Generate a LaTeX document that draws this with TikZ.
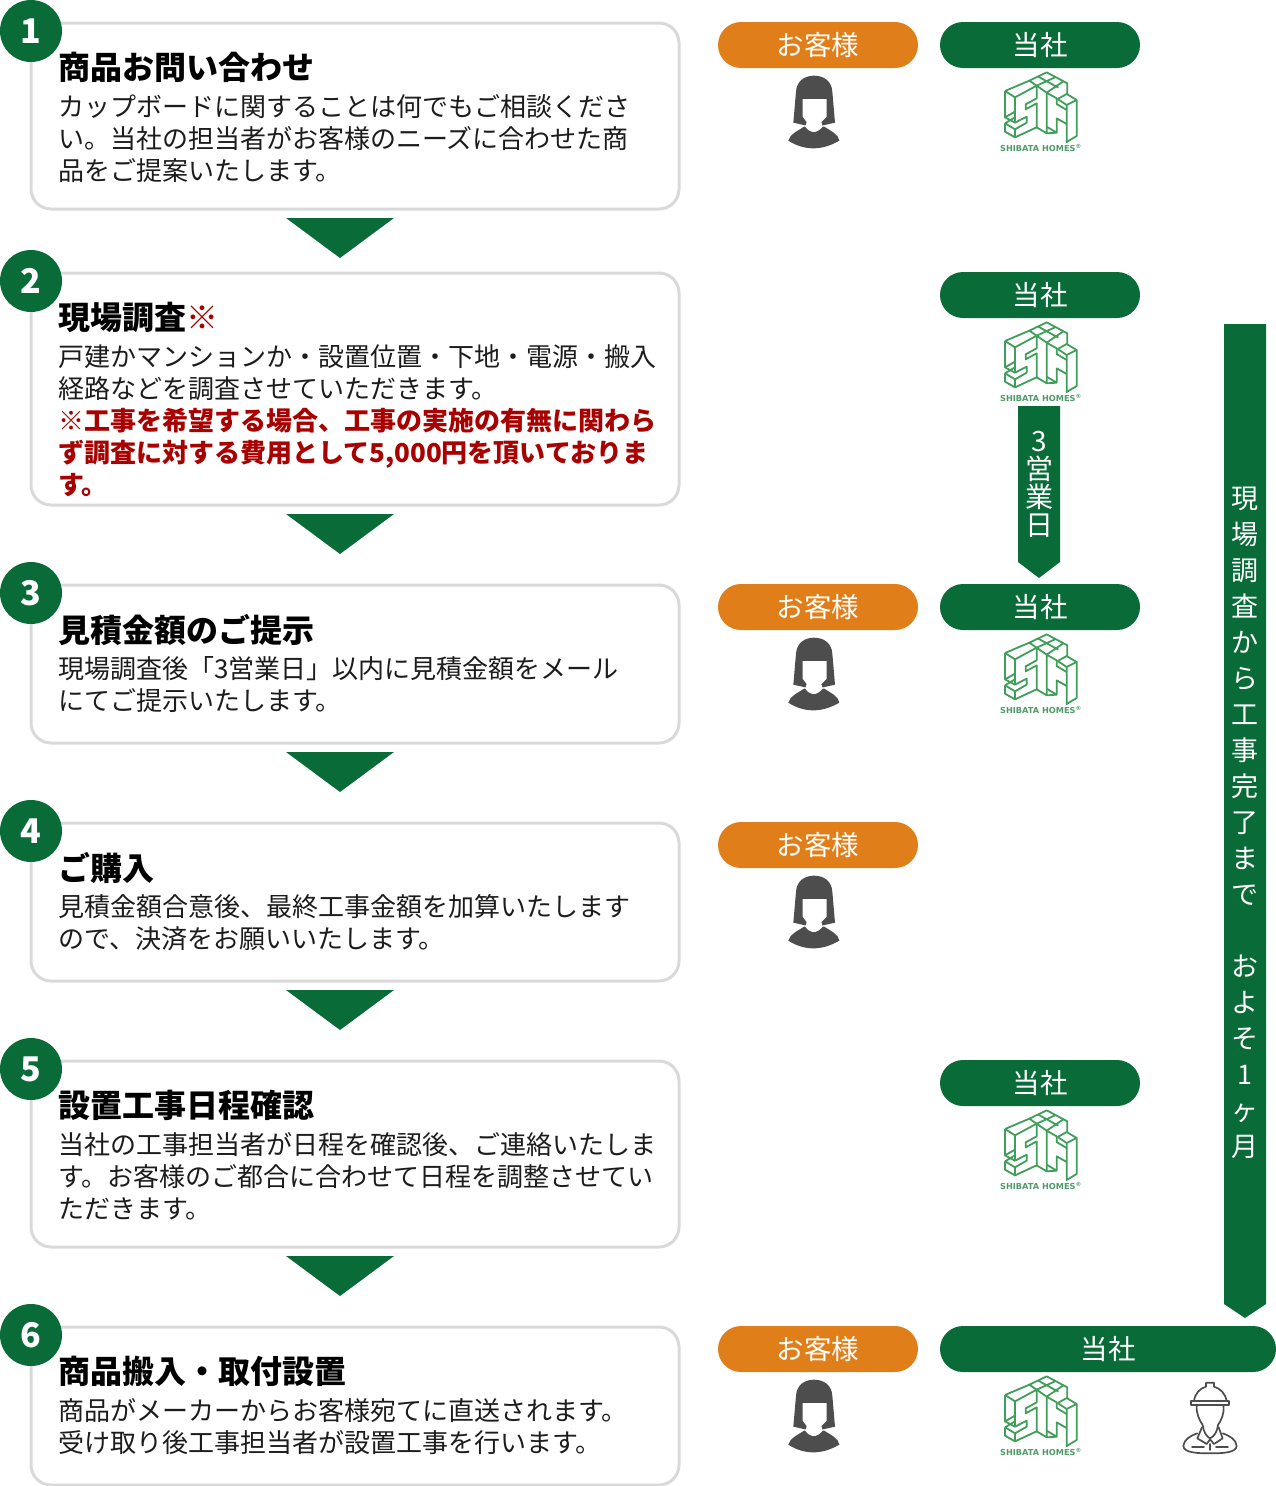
\documentclass[tikz,border=0pt]{standalone}
\usepackage{fontspec}
\setmainfont{Noto Sans CJK JP}
\newfontfamily\latinlogo{DejaVu Sans}
\usetikzlibrary{calc}
\definecolor{brand}{HTML}{096B38}
\definecolor{cust}{HTML}{E07F1A}
\definecolor{edge}{HTML}{D9D9D9}
\definecolor{redtxt}{HTML}{A90000}
\definecolor{ink}{HTML}{1C1C1C}
\definecolor{logo}{HTML}{3F9E5A}
\definecolor{logotext}{HTML}{4F9A68}
\definecolor{figure}{HTML}{4D4D4D}
\newcommand{\badgenum}[1]{\raisebox{-1pt}{#1}}
\tikzset{
  stepbox/.style={draw=edge,line width=3pt,fill=white,rounded corners=20pt,minimum width=648pt,inner sep=0pt,outer sep=0pt,anchor=north west},
  badge/.style={circle,fill=brand,text=white,minimum size=62pt,inner sep=0pt,font=\fontsize{34}{34}\selectfont\bfseries},
  steptitle/.style={anchor=north west,inner sep=0pt,font=\fontsize{32}{38}\selectfont\bfseries,text=black},
  stepbody/.style={anchor=north west,inner sep=0pt,align=left,font=\fontsize{26}{32}\selectfont,text=ink},
  pill/.style={rounded corners=23pt,minimum height=46pt,inner sep=0pt,outer sep=0pt,anchor=north west,text=white,font=\fontsize{27.5}{30}\selectfont},
  custpill/.style={pill,fill=cust,minimum width=200pt},
  compill/.style={pill,fill=brand,minimum width=200pt},
  downtri/.style={fill=brand},
  vtext/.style={inner sep=0pt,text=white,align=center},
  logomark/.pic={
    \begin{scope}[scale=1/3,draw=logo,line width=1.8pt,line join=round]
      % top tiles
      \draw (675,213)--(748,182)--(800,157)--(862,190)--(862,222);
      \draw (748,182)--(770,197) (775,170)--(835,203) (825,172)--(770,197) (850,184)--(800,218)--(770,197);
      % S front
      \draw (705,232)--(770,197)--(770,235)--(737,253)--(737,268)--(770,250)--(770,322)--(705,352)--(705,328)--(740,308)--(740,290)--(705,308)--cycle;
      % S side faces
      \draw (675,213)--(705,232) (675,213)--(675,292)--(705,308);
      \draw (675,292)--(705,275);
      \draw (675,310)--(705,328) (675,310)--(675,335)--(705,352) (675,310)--(705,292);
      % H
      \draw (800,218)--(800,320)--(830,338)--(830,295)--(860,312) (800,218)--(830,235)--(830,252)--(860,270);
      \draw (770,322)--(800,340)--(830,338) (800,320)--(800,340);
      % right stem
      \draw (833,237)--(860,222)--(890,240)--(890,348)--(860,366)--(860,255)--(833,237);
      \draw (860,255)--(890,240);
      \node[inner sep=0pt,text=logotext,font=\latinlogo\fontsize{8.2}{8}\selectfont\bfseries] at (783,384) {SHIBATA HOMES\textsuperscript{®}};
    \end{scope}},
  personmark/.pic={
    \begin{scope}[scale=1/3]
      \fill[figure] (40,308) -- (48,215) .. controls (50,182) and (75,167) .. (102,167) .. controls (130,167) and (155,182) .. (157,215) -- (165,308) -- (120,318) -- (85,318) -- cycle;
      \fill[figure] (25,362) .. controls (30,342) and (50,335) .. (72,320) -- (133,320) .. controls (155,335) and (175,342) .. (178,362) .. controls (150,378) and (125,385) .. (100,385) .. controls (75,385) and (50,378) .. (25,362) -- cycle;
      \fill[white] (68,237) -- (140,237) -- (140,290) -- (124,306) -- (128,320) .. controls (120,330) and (110,336) .. (102,336) .. controls (92,336) and (82,330) .. (76,320) -- (80,306) -- (68,290) -- cycle;
    \end{scope}},
  workermark/.pic={
    \begin{scope}[scale=1/3,draw=figure,line width=1.7pt,line join=round,line cap=round]
      \draw (612,93) .. controls (615,70) and (630,55) .. (648,50) -- (648,38) -- (672,38) -- (672,50) .. controls (690,55) and (707,70) .. (710,95);
      \draw[fill=white,line width=2.2pt] (604,94) -- (716,94) -- (716,106) -- (604,106) -- cycle;
      \draw (620,106) .. controls (618,130) and (628,150) .. (638,165) .. controls (640,185) and (650,200) .. (660,205) .. controls (672,200) and (682,185) .. (684,165) .. controls (694,150) and (704,130) .. (700,106);
      \draw (636,172) -- (622,205) -- (650,222) -- (660,208) -- (672,222) -- (698,205) -- (686,172);
      \draw (622,190) .. controls (600,198) and (582,208) .. (580,228) .. controls (582,248) and (620,250) .. (660,250) .. controls (700,250) and (738,248) .. (740,228) .. controls (738,208) and (720,198) .. (698,190);
      \draw (606,230) -- (642,230) (678,230) -- (714,230) (660,222) -- (660,240);
    \end{scope}}
}
\begin{document}
\begin{tikzpicture}[x=1pt,y=-1pt]
\useasboundingbox (0,0) rectangle (1276,1486);
% step boxes
\node[stepbox,minimum height=186pt] (b1) at (31,23) {};
\node[stepbox,minimum height=232pt] (b2) at (31,273) {};
\node[stepbox,minimum height=158pt] (b3) at (31,585) {};
\node[stepbox,minimum height=158pt] (b4) at (31,823) {};
\node[stepbox,minimum height=186pt] (b5) at (31,1061) {};
\node[stepbox,minimum height=158pt] (b6) at (31,1327) {};
% badges
\node[badge] (n1) at (31,31) {\badgenum{1}};
\node[badge] (n2) at (31,281) {\badgenum{2}};
\node[badge] (n3) at (31,593) {\badgenum{3}};
\node[badge] (n4) at (31,831) {\badgenum{4}};
\node[badge] (n5) at (31,1069) {\badgenum{5}};
\node[badge] (n6) at (31,1335) {\badgenum{6}};
% triangles
\foreach \b in {b1,b2,b3,b4,b5}{
  \fill[downtri] ($(\b.south)+(-69,9)$) -- ($(\b.south)+(39,9)$) -- ($(\b.south)+(-15,49)$) -- cycle;
}
% texts
\node[steptitle] (t1) at (58,52) {商品お問い合わせ};
\node[stepbody] (d1) at (58,94) {カップボードに関することは何でもご相談くださ\\い。当社の担当者がお客様のニーズに合わせた商\\品をご提案いたします。};
\node[steptitle] (t2) at (58,302) {現場調査{\color{redtxt}\mdseries ※}};
\node[stepbody] (d2) at (58,344) {戸建かマンションか・設置位置・下地・電源・搬入\\経路などを調査させていただきます。\\{\color{redtxt}\bfseries ※工事を希望する場合、工事の実施の有無に関わら}\\{\color{redtxt}\bfseries ず調査に対する費用として5,000円を頂いておりま}\\{\color{redtxt}\bfseries す。}};
\node[steptitle] (t3) at (58,614) {見積金額のご提示};
\node[stepbody] (d3) at (58,656) {現場調査後「3営業日」以内に見積金額をメール\\にてご提示いたします。};
\node[steptitle] (t4) at (58,852) {ご購入};
\node[stepbody] (d4) at (58,894) {見積金額合意後、最終工事金額を加算いたします\\ので、決済をお願いいたします。};
\node[steptitle] (t5) at (58,1090) {設置工事日程確認};
\node[stepbody] (d5) at (58,1132) {当社の工事担当者が日程を確認後、ご連絡いたしま\\す。お客様のご都合に合わせて日程を調整させてい\\ただきます。};
\node[steptitle] (t6) at (58,1356) {商品搬入・取付設置};
\node[stepbody] (d6) at (58,1398) {商品がメーカーからお客様宛てに直送されます。\\受け取り後工事担当者が設置工事を行います。};
% pills
\node[custpill] (c1) at (718,22) {お客様};
\node[compill] (s1) at (940,22) {当社};
\node[compill] (s2) at (940,272) {当社};
\node[custpill] (c3) at (718,584) {お客様};
\node[compill] (s3) at (940,584) {当社};
\node[custpill] (c4) at (718,822) {お客様};
\node[compill] (s5) at (940,1060) {当社};
\node[custpill] (c6) at (718,1326) {お客様};
\node[compill,minimum width=336pt] (s6) at (940,1326) {当社};
% icons
\foreach \o in {0,562,800,1304}{ \pic at (780,20+\o) {personmark}; }
\foreach \o in {0,250,562,1038,1304}{ \pic at (780,20+\o) {logomark}; }
\pic at (990,1370) {workermark};
% arrows with vertical text
\fill[brand] (1018,406) -- (1060,406) -- (1060,562) -- (1039,578) -- (1018,562) -- cycle;
\node[vtext,font=\fontsize{28}{28}\selectfont] (v3) at (1039,484) {3\\営\\業\\日};
\fill[brand] (1224,324) -- (1266,324) -- (1266,1304) -- (1245,1318) -- (1224,1304) -- cycle;
\node[vtext,font=\fontsize{27}{36}\selectfont] (v1) at (1245,823) {現\\場\\調\\査\\か\\ら\\工\\事\\完\\了\\ま\\で\\\mbox{}\\お\\よ\\そ\\1\\ヶ\\月};
\end{tikzpicture}
\end{document}
